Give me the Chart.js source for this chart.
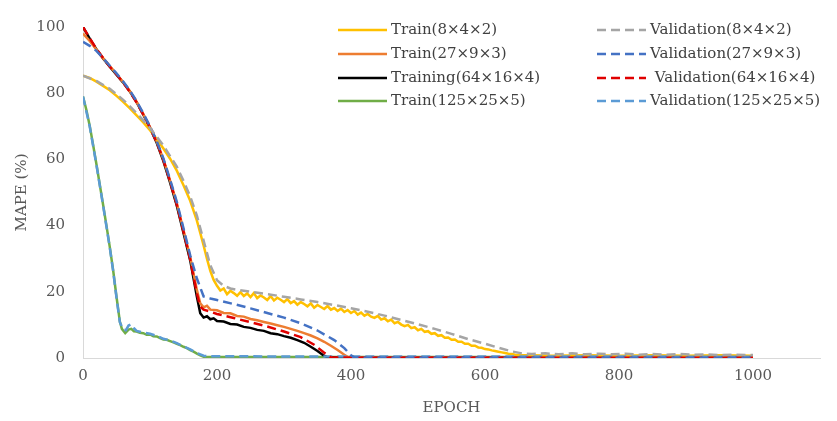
<!DOCTYPE html>
<html>
<head>
<meta charset="utf-8">
<script src="https://cdn.jsdelivr.net/npm/chart.js@4.4.1/dist/chart.umd.min.js"></script>
<style>
  body { margin: 0; background: #fff; }
  #wrap { width: 837px; height: 421px; position: relative; }
</style>
</head>
<body>
<div id="wrap"><canvas id="mapeChart"></canvas></div>
<script>
// tick values
const xTicks = [0, 200, 400, 600, 800, 1000];
const yTicks = [0, 20, 40, 60, 80, 100];

// Train(8x4x2)
const epochsTrain8 = [0,10,20,30,40,50,60,70,80,90,100,110,120,130,140,150,160,170,175,180,185,190,195,200,
  205,210,215,220,225,230,235,240,245,250,255,260,265,270,275,280,285,290,295,300,305,310,315,320,325,330,
  335,340,345,350,355,360,365,370,375,380,385,390,395,400,405,410,415,420,425,430,435,440,445,450,455,460,
  465,470,475,480,485,490,495,500,505,510,515,520,525,530,535,540,545,550,555,560,565,570,575,580,585,590,
  595,600,605,610,615,620,625,630,635,640,645,650,670,700,750,800,850,900,950,1000];
const train8 = [85.3,84.6,83.5,82.2,80.9,79.2,77.4,75.4,73.3,71.2,68.8,66.2,63.3,60.2,56.6,52.2,47.5,41.5,37.8,34,30,26.3,23.6,21.8,
  20.4,21.0,19.3,20.3,19.6,18.8,19.9,18.7,19.5,18.4,19.6,18.1,18.9,18.3,17.5,18.7,17.4,18.2,17.6,16.9,17.8,16.6,17.2,16.1,16.9,16.3,
  15.6,16.5,15.2,16.0,15.4,14.8,15.7,14.6,15.1,14.2,14.9,13.9,14.5,13.6,14.2,13.1,13.7,12.8,13.3,12.5,12.1,12.7,11.6,12.0,11.1,11.6,
  10.5,10.9,10.1,9.6,10.0,9.0,9.3,8.4,8.8,7.9,8.1,7.3,7.5,6.7,6.9,6.1,6.2,5.5,5.6,4.9,4.9,4.3,4.3,3.7,3.7,3.2,
  3.1,2.7,2.6,2.3,2.1,1.9,1.7,1.5,1.3,1.2,1.0,0.9,0.8,0.7,0.8,0.7,0.8,0.7,0.8,0.7];

// Validation(8x4x2)
const epochsVal8 = [0,20,40,60,80,100,120,140,150,160,170,180,190,200,210,220,230,250,275,300,325,350,375,400,425,450,475,500,
  525,550,575,600,620,640,655,670,690,710,730,750,770,790,810,830,850,870,890,910,930,950,970,1000];
const val8 = [85.3,83.7,81.3,78,74,69.5,64.2,57.8,53.5,48.8,43,35.5,28,23.5,21.8,21,20.6,20,19.3,18.5,17.7,16.9,16,15,14,12.8,11.5,10.2,
  8.8,7.3,5.7,4.3,3.1,2,1.4,1.2,1.4,1.1,1.4,1.1,1.3,1.1,1.3,1.0,1.2,1.0,1.2,1.0,1.1,0.9,1.0,0.9];

// Train(27x9x3)
const epochsTrain27 = [0,10,20,30,40,50,60,70,80,90,100,110,120,130,140,150,160,165,170,175,180,185,190,200,210,220,230,240,
  250,260,270,280,290,300,310,320,330,340,350,360,370,380,390,396,420,1000];
const train27 = [98,95.8,93.2,90.6,88.2,85.8,83.3,80.6,77.4,73.7,69.8,65.4,60,53.6,46.8,38.6,30.5,25.5,20.5,16.5,15.3,15.8,14.6,14.4,13.6,13.5,12.7,12.5,
  11.8,11.4,10.9,10.4,9.9,9.4,8.8,8.2,7.5,6.8,5.9,4.9,3.7,2.4,1.0,0.2,0.1,0.1];

// Validation(27x9x3)
const epochsVal27 = [0,10,20,30,40,50,60,70,80,90,100,110,120,130,140,150,160,170,180,190,200,225,250,275,300,325,350,375,390,400,405,420,1000];
const val27 = [95.5,94.3,92.8,90.6,88.3,86,83.5,80.8,77.6,73.9,70,65.6,60.3,53.9,47.2,39.2,31,24,18.6,18,17.5,16.3,15,13.6,12.2,10.5,8.3,5.4,3,0.8,0.2,0.1,0.1];

// Training(64x16x4)
const epochsTrain64 = [0,10,20,30,40,50,60,70,80,90,100,110,120,130,140,150,160,165,170,175,180,185,190,195,200,210,220,230,240,
  250,260,270,280,290,300,310,320,330,340,350,358,365,380,1000];
const train64 = [100,96.5,93.3,90.5,88,85.6,83.2,80.5,77.3,73.5,69.5,65,59.5,53,46,37.8,29.5,24,18.5,13.5,12.2,12.6,11.7,12,11.2,11,10.3,10.1,9.4,
  9.1,8.5,8.2,7.5,7.2,6.6,6.1,5.4,4.6,3.4,2.1,0.9,0.2,0.1,0.1];

// Validation(64x16x4)
const epochsVal64 = [0,10,20,30,40,50,60,70,80,90,100,110,120,130,140,150,160,165,170,175,180,190,200,225,250,275,300,325,345,360,370,400,1000];
const val64 = [100,96.6,93.4,90.6,88,85.7,83.2,80.4,77.2,73.5,69.6,65.2,59.8,53.3,46.3,38.2,29.8,24.5,19.5,15.5,14.6,14,13.3,12.1,10.8,9.5,8,6.3,4,1.6,0.2,0.1,0.1];

// Train(125x25x5)
const epochsTrain125 = [0,5,10,15,20,25,30,35,40,45,50,55,58,63,68,72,76,80,85,90,95,100,105,110,115,120,125,130,135,140,145,150,
  155,160,165,170,175,180,190,1000];
const train125 = [79,75,70.2,64.5,58.6,52.4,46.3,40,33.5,26.5,18.5,11,8.8,7.5,8.6,8.8,8.1,8,7.6,7.5,7.0,7.1,6.6,6.5,6.0,5.6,5.5,5.1,4.7,4.3,3.9,3.4,
  3.0,2.4,1.9,1.3,0.8,0.4,0.3,0.3];

// Validation(125x25x5)
const epochsVal125 = [0,10,20,30,40,45,50,55,60,64,68,72,76,80,90,100,110,120,130,140,150,160,170,180,190,1000];
const val125 = [79,70,58.4,46.1,33.3,26.3,18.2,10.8,8.6,8.4,9.8,10.2,9,8.2,7.7,7.3,6.7,5.8,5.3,4.5,3.5,2.6,1.5,0.7,0.5,0.4];

const seriesLabels = ['Train(8×4×2)', 'Validation(8×4×2)', 'Train(27×9×3)', 'Validation(27×9×3)',
  'Training(64×16×4)', ' Validation(64×16×4)', 'Train(125×25×5)', 'Validation(125×25×5)'];
const seriesColors = ['#FFC000', '#A5A5A5', '#ED7D31', '#4472C4', '#000000', '#E00000', '#70AD47', '#5B9BD5'];

const seriesEpochs = [epochsTrain8, epochsVal8, epochsTrain27, epochsVal27, epochsTrain64, epochsVal64, epochsTrain125, epochsVal125];
const seriesValues = [train8, val8, train27, val27, train64, val64, train125, val125];

const FONT = '"DejaVu Serif", "Liberation Serif", serif';
const DASH = [9, 5];

const datasets = seriesLabels.map((label, i) => {
  const dashed = i % 2 === 1;
  return {
    label: label,
    data: seriesEpochs[i].map((e, k) => ({ x: e, y: seriesValues[i][k] })),
    borderColor: seriesColors[i],
    backgroundColor: seriesColors[i],
    borderWidth: 2.5,
    borderDash: dashed ? DASH : [],
    pointRadius: 0,
    tension: 0,
    fill: false,
    order: dashed ? 0 : 1
  };
});

// two-column legend drawn straight on the canvas
const gridLegend = {
  id: 'gridLegend',
  afterDraw(chart) {
    const ctx = chart.ctx;
    const colX = [338, 597];
    const rowY = [30, 54, 78, 101];
    ctx.save();
    ctx.font = '15px ' + FONT;
    ctx.textBaseline = 'middle';
    ctx.fillStyle = '#404040';
    chart.data.datasets.forEach((ds, i) => {
      const x = colX[i % 2];
      const y = rowY[Math.floor(i / 2)];
      ctx.beginPath();
      ctx.strokeStyle = ds.borderColor;
      ctx.lineWidth = 2.5;
      ctx.setLineDash(ds.borderDash);
      ctx.moveTo(x, y);
      ctx.lineTo(x + 49, y);
      ctx.stroke();
      ctx.setLineDash([]);
      ctx.fillText(ds.label, x + 53, y);
    });
    ctx.restore();
  }
};

const ctx = document.getElementById('mapeChart').getContext('2d');

new Chart(ctx, {
  type: 'line',
  data: { datasets: datasets },
  options: {
    responsive: true,
    maintainAspectRatio: false,
    animation: false,
    layout: { padding: { top: 18, right: 17, left: 0, bottom: 0 } },
    scales: {
      x: {
        type: 'linear',
        min: 0,
        max: 1100,
        afterBuildTicks: s => { s.ticks = xTicks.map(v => ({ value: v })); },
        afterFit: s => { s.height = 63; },
        grid: { display: false, drawTicks: false },
        border: { display: true, color: '#D9D9D9', width: 1 },
        ticks: {
          color: '#595959',
          font: { family: FONT, size: 15 },
          padding: 9,
          maxRotation: 0,
          callback: v => String(v)
        },
        title: { display: true, text: 'EPOCH', color: '#595959', font: { family: FONT, size: 15 }, padding: { top: 0, bottom: 4 } }
      },
      y: {
        min: 0,
        max: 100,
        afterBuildTicks: s => { s.ticks = yTicks.map(v => ({ value: v })); },
        afterFit: s => { s.width = 83; },
        grid: { display: false, drawTicks: false },
        border: { display: true, color: '#D9D9D9', width: 1 },
        ticks: { color: '#595959', font: { family: FONT, size: 15 }, padding: 18, callback: v => String(v) },
        title: { display: true, text: 'MAPE (%)', color: '#595959', font: { family: FONT, size: 15 }, padding: { top: 13, bottom: 0 } }
      }
    },
    plugins: {
      legend: { display: false },
      tooltip: { enabled: false }
    }
  },
  plugins: [gridLegend]
});
</script>
</body>
</html>
